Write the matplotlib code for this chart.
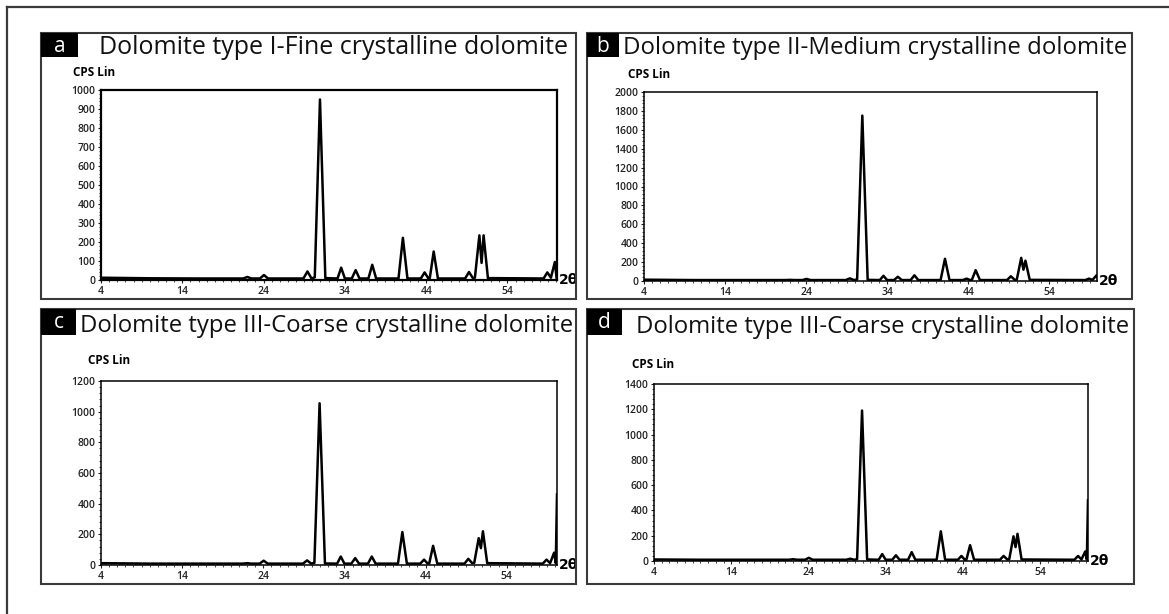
import matplotlib
matplotlib.use("Agg")
import matplotlib.pyplot as plt
from matplotlib.patches import Rectangle
from matplotlib.lines import Line2D
from matplotlib.ticker import MultipleLocator

# ---------------- data ----------------
panel_letters = ["a", "b", "c", "d"]
panel_titles = [
    "Dolomite type I-Fine crystalline dolomite",
    "Dolomite type II-Medium crystalline dolomite",
    "Dolomite type III-Coarse crystalline dolomite",
    "Dolomite type III-Coarse crystalline dolomite",
]
y_label = "CPS Lin"
x_label = "2θ"
x_ticks = [4, 14, 24, 34, 44, 54]
y_ticks_a = [0, 100, 200, 300, 400, 500, 600, 700, 800, 900, 1000]
y_ticks_b = [0, 200, 400, 600, 800, 1000, 1200, 1400, 1600, 1800, 2000]
y_ticks_c = [0, 200, 400, 600, 800, 1000, 1200]
y_ticks_d = [0, 200, 400, 600, 800, 1000, 1200, 1400]

# diffractogram vertices (2θ, counts)
two_theta = [4.0, 10.0, 16.0, 21.5, 22.0, 22.5, 23.55, 24.05, 24.55, 28.9, 29.4, 29.9,
             30.3, 30.94, 31.6, 33.1, 33.55, 34.0, 34.85, 35.33, 35.8, 36.9, 37.37, 37.85,
             40.6, 41.14, 41.7, 43.35, 43.81, 44.25, 44.45, 44.93, 45.45, 48.8, 49.27, 49.75,
             50.0, 50.55, 50.82, 51.07, 51.6, 58.45, 58.91, 59.35, 59.84, 60.05, 60.2]
counts_a = [12, 9, 8, 8, 16, 8, 8, 26, 8, 8, 45, 8,
            14, 950, 10, 8, 65, 8, 8, 52, 8, 8, 80, 8,
            8, 222, 8, 8, 40, 10, 10, 150, 8, 8, 42, 10,
            12, 235, 90, 235, 10, 8, 40, 12, 95, 10, 10]
counts_b = [14, 10, 10, 10, 12, 10, 10, 22, 10, 10, 28, 10,
            16, 1750, 12, 10, 55, 10, 10, 45, 10, 10, 60, 10,
            10, 235, 10, 10, 25, 10, 10, 115, 10, 10, 50, 12,
            14, 245, 120, 215, 12, 10, 25, 12, 60, 12, 20]
counts_c = [12, 9, 9, 9, 12, 9, 9, 28, 9, 9, 30, 9,
            14, 1055, 10, 9, 55, 9, 9, 45, 9, 9, 55, 9,
            9, 215, 9, 9, 35, 10, 10, 125, 9, 9, 40, 12,
            14, 175, 110, 220, 12, 9, 35, 12, 80, 12, 460]
counts_d = [12, 10, 10, 10, 14, 10, 10, 25, 10, 10, 18, 10,
            14, 1190, 12, 10, 55, 10, 10, 45, 10, 10, 70, 10,
            10, 235, 10, 10, 40, 10, 10, 125, 10, 10, 40, 12,
            14, 195, 110, 215, 12, 10, 40, 12, 75, 12, 480]

all_counts = [counts_a, counts_b, counts_c, counts_d]
all_yticks = [y_ticks_a, y_ticks_b, y_ticks_c, y_ticks_d]
x_max = [60.1, 59.9, 60.2, 60.2]

# ---------------- layout (pixels) ----------------
W, H = 1169, 614
fig = plt.figure(figsize=(W / 100, H / 100), dpi=100)
fig.patch.set_facecolor("white")

def fx(x):
    return x / W

def fy(y):
    return 1 - y / H

frame_col = "#3a3a3a"
# outer border (left and top visible)
fig.add_artist(Line2D([fx(7), fx(7)], [fy(7), fy(614)], color=frame_col, lw=1.6))
fig.add_artist(Line2D([fx(7), fx(1169)], [fy(7), fy(7)], color=frame_col, lw=1.6))

boxes = [(41, 33, 576, 299), (587, 33, 1132, 299), (41, 309, 576, 584), (587, 309, 1134, 584)]
label_boxes = [(41, 33, 78, 57), (587, 33, 619, 57), (41, 309, 76, 335), (587, 309, 622, 335)]
title_x = [99, 623, 80, 636]
title_y = [48, 48, 326, 327]
title_size = [18, 17.3, 17.2, 17.2]
cps_pos = [(73, 72), (628, 74), (88, 361), (632, 364)]
axes_px = [(101, 90, 557, 280), (644, 92, 1097, 281), (101, 381, 557, 565), (654, 384, 1088, 561)]

title_font = ["Open Sans", "DejaVu Sans"]

for i in range(4):
    x0, y0, x1, y1 = boxes[i]
    fig.add_artist(Rectangle((fx(x0), fy(y1)), fx(x1) - fx(x0), fy(y0) - fy(y1),
                             transform=fig.transFigure, fill=False,
                             edgecolor=frame_col, lw=1.5))
    lx0, ly0, lx1, ly1 = label_boxes[i]
    fig.add_artist(Rectangle((fx(lx0), fy(ly1)), fx(lx1) - fx(lx0), fy(ly0) - fy(ly1),
                             transform=fig.transFigure, facecolor="black",
                             edgecolor="black", lw=0))
    fig.text(fx((lx0 + lx1) / 2), fy((ly0 + ly1) / 2 + 1), panel_letters[i],
             color="white", fontsize=15, ha="center", va="center", family=title_font)
    fig.text(fx(title_x[i]), fy(title_y[i]), panel_titles[i], fontsize=title_size[i],
             ha="left", va="center", family=title_font, color="#111111")
    fig.text(fx(cps_pos[i][0]), fy(cps_pos[i][1]), y_label, fontsize=8.5,
             fontweight="bold", ha="left", va="center", family=title_font)

    ax0, ay0, ax1, ay1 = axes_px[i]
    ax = fig.add_axes([fx(ax0), fy(ay1), fx(ax1) - fx(ax0), fy(ay0) - fy(ay1)])
    ax.plot(two_theta, all_counts[i], color="black", lw=1.8, solid_joinstyle="round")
    yt = all_yticks[i]
    ax.set_xlim(4, x_max[i])
    ax.set_ylim(0, yt[-1])
    ax.set_xticks(x_ticks)
    ax.set_yticks(yt)
    ax.xaxis.set_minor_locator(MultipleLocator(1))
    ax.yaxis.set_minor_locator(MultipleLocator(yt[1] / 5))
    ax.tick_params(axis="both", which="major", direction="out", length=2.5, width=0.8,
                   labelsize=7.5, pad=1.5, colors="#222222")
    ax.tick_params(axis="both", which="minor", direction="out", length=1.2, width=0.5)
    for lab in ax.get_xticklabels() + ax.get_yticklabels():
        lab.set_family(title_font)
        lab.set_fontweight("semibold")
    for sp in ax.spines.values():
        sp.set_linewidth(1.6 if i == 0 else 1.1)
        sp.set_color("black")
    ax.text(1.004, 0.0, x_label, transform=ax.transAxes, fontsize=10,
            fontweight="bold", ha="left", va="center", family=["DejaVu Sans"])

fig.savefig("out.png", dpi=100)
